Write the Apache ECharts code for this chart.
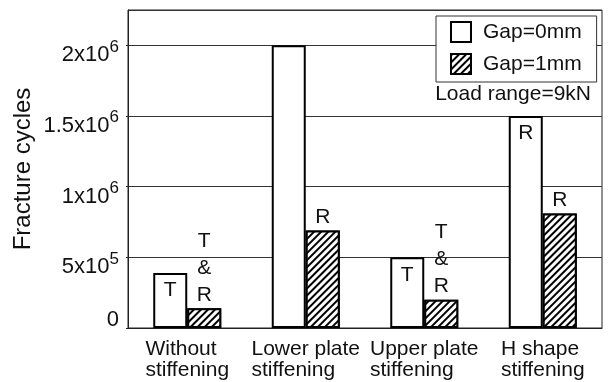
<!DOCTYPE html>
<html>
<head>
<meta charset="utf-8">
<script src="https://cdn.jsdelivr.net/npm/echarts@6/dist/echarts.min.js"></script>
<style>
  html, body { margin: 0; padding: 0; background: #fff; }
  #chart { width: 608px; height: 382px; }
</style>
</head>
<body>
<div id="chart"></div>
<script>
// Fracture cycles per stiffening type, for two gap sizes
const categories = ['Without\nstiffening', 'Lower plate\nstiffening', 'Upper plate\nstiffening', 'H shape\nstiffening'];
const seriesNames = ['Gap=0mm', 'Gap=1mm'];
const gap0Cycles = [390000, 2000000, 500000, 1500000];
const gap1Cycles = [140000, 690000, 200000, 810000];
// Failure location marks: T = toe, R = root
const gap0Marks = ['T', '', 'T', 'R'];
const gap1Marks = ['T\n&\nR', 'R', 'T\n&\nR', 'R'];
// Y tick labels written as mantissa x 10^exponent
const yTickValues = [0, 500000, 1000000, 1500000, 2000000];
const yTickMantissa = ['0', '5x10', '1x10', '1.5x10', '2x10'];
const yTickExponent = ['', '5', '6', '6', '6'];
const noteText = 'Load range=9kN';

const FONT = '"Liberation Sans", Arial, sans-serif';
const INK = '#111';

const chart = echarts.init(document.getElementById('chart'), null, { renderer: 'canvas' });

// Diagonal "///" hatching for the 1 mm gap bars
const hatch = {
  symbol: 'rect',
  symbolSize: 1,
  dashArrayX: [1, 0],
  dashArrayY: [2, 3],
  rotation: -Math.PI / 4,
  color: '#000',
  backgroundColor: '#fff'
};

chart.setOption({
  animation: false,
  backgroundColor: '#fff',
  textStyle: { fontFamily: FONT, color: INK },
  grid: {
    left: 128, right: 6, top: 10, bottom: 54,
    show: true, borderColor: '#222', borderWidth: 1, backgroundColor: 'transparent'
  },
  legend: {
    orient: 'vertical',
    left: 436, top: 16,
    padding: [5, 15, 7, 14],
    itemWidth: 20, itemHeight: 20, itemGap: 10,
    icon: 'rect',
    backgroundColor: '#fff',
    borderColor: '#333', borderWidth: 1,
    textStyle: { fontFamily: FONT, fontSize: 21, color: INK, padding: [0, 0, 0, 7] },
    data: seriesNames
  },
  graphic: [{
    type: 'text',
    right: 17, top: 84,
    z: 100,
    style: { text: noteText, font: '21px ' + FONT, fill: INK }
  }],
  xAxis: {
    type: 'category',
    data: categories,
    axisLine: { show: true, lineStyle: { color: '#222', width: 1 } },
    axisTick: { show: false },
    axisLabel: {
      margin: 11,
      interval: 0,
      formatter: v => v.split('\n').map(l => '{c|' + l + '}').join('\n'),
      rich: { c: { fontFamily: FONT, fontSize: 21, lineHeight: 21, color: INK, align: 'left' } }
    }
  },
  yAxis: {
    type: 'value',
    min: 0, max: 2250000, interval: 500000,
    name: 'Fracture cycles',
    nameLocation: 'middle',
    nameGap: 93,
    nameMoveOverlap: false,
    nameTextStyle: { fontFamily: FONT, fontSize: 24, color: INK },
    axisLine: { show: true, lineStyle: { color: '#222', width: 1 } },
    axisTick: { show: true, length: 2, lineStyle: { color: '#222' } },
    splitLine: { show: true, lineStyle: { color: '#333', width: 1 } },
    axisLabel: {
      margin: 9,
      showMaxLabel: false,
      formatter: v => {
        const i = yTickValues.indexOf(v);
        if (i < 0) return '';
        if (!yTickExponent[i]) return '{z|' + yTickMantissa[i] + '}';
        return '{m|' + yTickMantissa[i] + '}{s|' + yTickExponent[i] + '}';
      },
      rich: {
        m: { fontFamily: FONT, fontSize: 22, lineHeight: 20, padding: [9, 0, 0, 0], color: INK, verticalAlign: 'top' },
        s: { fontFamily: FONT, fontSize: 17, lineHeight: 17, padding: [3, 0, 0, 0], color: INK, verticalAlign: 'top' },
        z: { fontFamily: FONT, fontSize: 22, lineHeight: 20, padding: [0, 0, 16, 0], color: INK }
      }
    }
  },
  series: [
    {
      name: seriesNames[0],
      type: 'bar',
      data: gap0Cycles,
      barWidth: 34,
      barGap: '0%',
      itemStyle: { color: '#fff', borderColor: '#000', borderWidth: 2 },
      label: {
        show: true,
        position: 'insideTop',
        distance: 7,
        fontFamily: FONT, fontSize: 21, color: INK,
        formatter: p => gap0Marks[p.dataIndex]
      }
    },
    {
      name: seriesNames[1],
      type: 'bar',
      data: gap1Cycles,
      barWidth: 34,
      barGap: '0%',
      itemStyle: { color: '#fff', borderColor: '#000', borderWidth: 2, decal: hatch },
      label: {
        show: true,
        position: 'top',
        distance: 0,
        fontFamily: FONT, fontSize: 21, lineHeight: 27, color: INK,
        formatter: p => gap1Marks[p.dataIndex]
      }
    }
  ]
});
</script>
</body>
</html>
